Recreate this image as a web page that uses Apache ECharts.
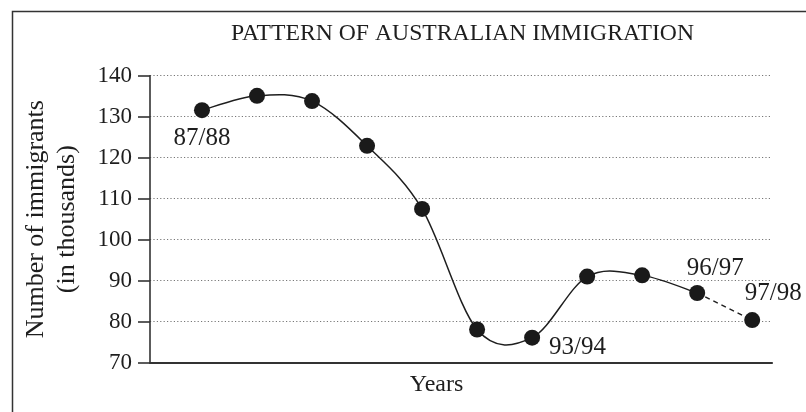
<!DOCTYPE html>
<html>
<head>
<meta charset="utf-8">
<script src="https://cdn.jsdelivr.net/npm/echarts@6/dist/echarts.min.js"></script>
<style>html,body{margin:0;padding:0;background:#fff;}#c{width:806px;height:412px;}</style>
</head>
<body>
<div id="c"></div>
<script>
// ---- data ----
var years = ['87/88','88/89','89/90','90/91','91/92','92/93','93/94','94/95','95/96','96/97','97/98'];
var immigrants = [131.6, 135.1, 133.8, 122.9, 107.5, 78.1, 76.1, 91.0, 91.3, 87.0, 80.4];
var labelledYears = ['87/88','93/94','96/97','97/98'];
var yTicks = [70, 80, 90, 100, 110, 120, 130, 140];
var titleText = 'PATTERN OF AUSTRALIAN IMMIGRATION';
var yName = 'Number of immigrants\n(in thousands)';
var xName = 'Years';

// ---- styling (not data) ----
var FONT = '"Liberation Serif", "DejaVu Serif", serif';
var INK = '#1e1e1e';
var labelStyle = {
  '87/88': {position: 'bottom', offset: [0, 3]},
  '93/94': {position: 'right', offset: [4, 10]},
  '96/97': {position: 'top', offset: [18, 1]},
  '97/98': {position: 'top', offset: [21, -1]}
};

var lastSolid = years.length - 2; // dashed final segment
var solidData = [], dashedData = [], pointData = [];
years.forEach(function (y, i) {
  if (i <= lastSolid) solidData.push([i, immigrants[i]]);
  if (i >= lastSolid) dashedData.push([i, immigrants[i]]);
  var item = {value: [i, immigrants[i]], name: y};
  if (labelledYears.indexOf(y) >= 0) {
    item.label = Object.assign({show: true}, labelStyle[y]);
  }
  pointData.push(item);
});

// Catmull-Rom curve segment between point i and i+1, drawn via the chart's coordinate system
function renderCurve(params, api) {
  var i = params.dataIndex;
  var n = solidData.length;
  if (i >= n - 1) return null;
  var P = function (k) {
    k = Math.max(0, Math.min(n - 1, k));
    return api.coord(solidData[k]);
  };
  var p0 = P(i - 1), p1 = P(i), p2 = P(i + 1), p3 = P(i + 2);
  var t = 1 / 6;
  return {
    type: 'bezierCurve',
    shape: {
      x1: p1[0], y1: p1[1], x2: p2[0], y2: p2[1],
      cpx1: p1[0] + (p2[0] - p0[0]) * t, cpy1: p1[1] + (p2[1] - p0[1]) * t,
      cpx2: p2[0] - (p3[0] - p1[0]) * t, cpy2: p2[1] - (p3[1] - p1[1]) * t
    },
    style: {fill: null, stroke: INK, lineWidth: 1.5},
    silent: true
  };
}

var chart = echarts.init(document.getElementById('c'), null, {renderer: 'canvas'});
chart.setOption({
  animation: false,
  backgroundColor: '#fff',
  title: {
    text: titleText,
    left: 231, top: 22, padding: 0,
    textStyle: {fontFamily: FONT, fontSize: 23.7, fontWeight: 'normal', color: INK}
  },
  graphic: [{
    type: 'rect', left: 10, top: 9,
    shape: {x: 0, y: 0, width: 820, height: 420},
    style: {fill: 'none', stroke: '#333', lineWidth: 1.5},
    silent: true
  }],
  grid: {left: 150, right: 34, top: 75.7, bottom: 49.3, containLabel: false},
  xAxis: {
    type: 'value', min: -0.945, max: 10.36,
    name: xName, nameLocation: 'middle', nameGap: 10,
    nameTextStyle: {fontFamily: FONT, fontSize: 24, color: INK, padding: [0, 49, 0, 0], verticalAlign: 'top'},
    axisLine: {show: true, onZero: false, lineStyle: {color: '#333', width: 2.2}},
    axisTick: {show: false}, axisLabel: {show: false}, splitLine: {show: false}
  },
  yAxis: {
    type: 'value', min: yTicks[0], max: yTicks[yTicks.length - 1], interval: 10,
    name: yName, nameLocation: 'middle', nameGap: 67, nameRotate: 90,
    nameTextStyle: {fontFamily: FONT, fontSize: 26, color: INK, lineHeight: 31, align: 'center'},
    axisLine: {show: true, onZero: false, lineStyle: {color: '#333', width: 1.6}},
    axisTick: {show: true, inside: false, length: 12, lineStyle: {color: '#333', width: 1.6}},
    axisLabel: {fontFamily: FONT, fontSize: 23, color: INK, margin: 18},
    splitLine: {show: true, lineStyle: {color: '#777', width: 1, type: [1.2, 2.2]}}
  },
  series: [
    {
      type: 'custom', data: solidData, renderItem: renderCurve, z: 2,
      encode: {x: 0, y: 1}
    },
    {
      type: 'line', data: dashedData, smooth: false, showSymbol: false, symbol: 'none',
      lineStyle: {color: INK, width: 1.4, type: [5, 4]}, z: 2
    },
    {
      type: 'scatter', data: pointData, symbol: 'circle', symbolSize: 16,
      itemStyle: {color: '#1a1a1a', opacity: 1}, z: 3,
      label: {show: false, formatter: '{b}', fontFamily: FONT, fontSize: 25, color: INK, opacity: 1}
    }
  ]
});
</script>
</body>
</html>
